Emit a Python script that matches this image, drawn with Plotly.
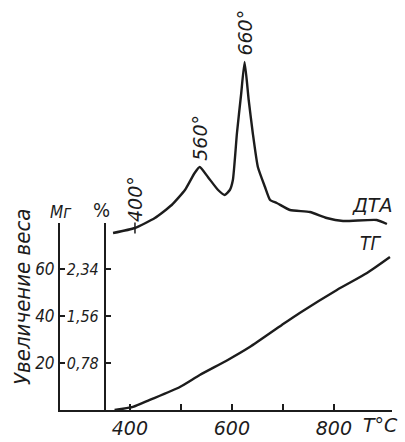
import plotly.graph_objects as go

# --- data ---
tg_temp = [370, 406, 439, 498, 537, 592, 635, 698, 733, 806, 865, 910]
tg_mg = [0, 1.3, 4.3, 9.8, 14.9, 21.3, 26.8, 36.2, 41.3, 51.1, 58.3, 65.1]

dta_temp = [367, 410, 449, 482, 508, 527, 537, 553, 573, 586, 596, 602, 610, 618,
            625, 633, 641, 651, 665, 675, 688, 714, 753, 786, 818, 884, 904]
dta_val = [177, 182, 192, 205, 220, 237, 243, 233, 220, 215, 220, 230, 277, 315,
           348, 310, 277, 243, 223, 210, 207, 200, 198, 192, 189, 190, 186]

x_ticks = [400, 500, 600, 700, 800]
x_ticktext = ["400", "", "600", "", "800"]
mg_ticks = [20, 40, 60]
mg_ticktext = ["20", "40", "60"]
pct_ticktext = ["0,78", "1,56", "2,34"]

peak_labels = ["400°", "560°", "660°"]
peak_temps = [410, 537, 625]

FONT = "DejaVu Sans Condensed, Liberation Sans Narrow, DejaVu Sans, sans-serif"
WIDE = "DejaVu Sans, sans-serif"
INK = "#1c1c1c"

fig = go.Figure()
fig.add_trace(go.Scatter(x=tg_temp, y=tg_mg, mode="lines", xaxis="x", yaxis="y",
                         line=dict(color=INK, width=2.4, shape="spline", smoothing=0.6),
                         showlegend=False, hoverinfo="skip"))
# same TG data on the % axis (invisible) so that axis gets drawn
fig.add_trace(go.Scatter(x=tg_temp, y=tg_mg, mode="lines", xaxis="x", yaxis="y3",
                         line=dict(color="rgba(0,0,0,0)", width=0),
                         showlegend=False, hoverinfo="skip"))
fig.add_trace(go.Scatter(x=dta_temp, y=dta_val, mode="lines", xaxis="x", yaxis="y2",
                         line=dict(color=INK, width=2.4, shape="spline", smoothing=0.5),
                         showlegend=False, hoverinfo="skip"))

# small tick mark on DTA at 400°
i400 = dta_temp.index(410)
fig.add_trace(go.Scatter(x=[dta_temp[i400]], y=[dta_val[i400]], mode="markers", xaxis="x", yaxis="y2",
                         marker=dict(symbol="line-ns", size=8, line=dict(color=INK, width=1.5)),
                         showlegend=False, hoverinfo="skip"))

annotations = []
for lab, t in zip(peak_labels, peak_temps):
    v = dta_val[dta_temp.index(t)]
    annotations.append(dict(x=t, y=v, xref="x", yref="y2", text=lab, showarrow=False,
                            textangle=-90, xanchor="center", yanchor="bottom", yshift=4,
                            font=dict(family=WIDE, size=19, color=INK, style="italic")))

annotations += [
    dict(x=875, y=205, xref="x", yref="y2", text="ДТА", showarrow=False,
         xanchor="center", yanchor="middle",
         font=dict(family=WIDE, size=19, color=INK, style="italic")),
    dict(x=871, y=167, xref="x", yref="y2", text="ТГ", showarrow=False,
         xanchor="center", yanchor="middle",
         font=dict(family=FONT, size=19, color=INK, style="italic")),
    dict(x=0.003, y=0.489, xref="paper", yref="paper", text="Мг", showarrow=False,
         xanchor="center", yanchor="middle",
         font=dict(family=FONT, size=17, color=INK, style="italic")),
    dict(x=0.1235, y=0.494, xref="paper", yref="paper", text="%", showarrow=False,
         xanchor="center", yanchor="middle",
         font=dict(family=FONT, size=20, color=INK)),
    dict(x=-0.1145, y=0.279, xref="paper", yref="paper", text="Увеличение веса", showarrow=False,
         xanchor="center", yanchor="middle",
         textangle=-90, font=dict(family=FONT, size=22, color=INK, style="italic")),
    dict(x=0.966, y=-0.037, xref="paper", yref="paper", text="T°C", showarrow=False,
         xanchor="center", yanchor="middle",
         font=dict(family=WIDE, size=19, color=INK, style="italic")),
]

fig.update_layout(
    width=405, height=442,
    margin=dict(l=60, r=13, t=5, b=32),
    paper_bgcolor="white", plot_bgcolor="rgba(0,0,0,0)",
    showlegend=False,
    xaxis=dict(range=[263, 914], tickvals=x_ticks, ticktext=x_ticktext,
               ticks="inside", ticklen=6, tickwidth=1.5, tickcolor=INK,
               showline=True, linecolor=INK, linewidth=2, showgrid=False, zeroline=False,
               anchor="y", automargin=False,
               tickfont=dict(family=WIDE, size=19, color=INK, style="italic")),
    yaxis=dict(range=[0, 79.6], domain=[0, 0.4617], tickvals=mg_ticks, ticktext=mg_ticktext,
               ticks="inside", ticklen=5, tickwidth=1.5, tickcolor=INK,
               showline=True, linecolor=INK, linewidth=2, showgrid=False, zeroline=False,
               anchor="x", automargin=False,
               tickfont=dict(family=FONT, size=17, color=INK, style="italic")),
    yaxis3=dict(range=[0, 79.6], overlaying="y", anchor="free", position=0.1355, side="left",
                tickvals=mg_ticks, ticktext=pct_ticktext,
                ticks="inside", ticklen=5, tickwidth=1.5, tickcolor=INK,
                showline=True, linecolor=INK, linewidth=2, showgrid=False, zeroline=False,
                automargin=False, ticklabelstandoff=2,
                tickfont=dict(family=FONT, size=16, color=INK, style="italic")),
    yaxis2=dict(range=[0, 405], domain=[0, 1], anchor="x", visible=False),
    annotations=annotations,
)

fig.write_html("out.html", config={"displayModeBar": False},
               post_script="document.body.style.margin='0';document.body.style.overflow='hidden';")
